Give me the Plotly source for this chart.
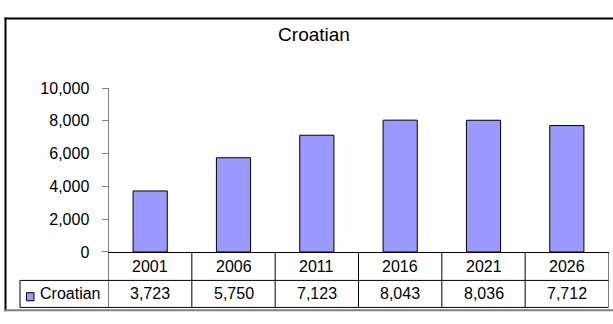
import plotly.graph_objects as go

# Series data
categories = ["2001", "2006", "2011", "2016", "2021", "2026"]
values = [3723, 5750, 7123, 8043, 8036, 7712]
series_name = "Croatian"
chart_title = "Croatian"
y_tick_values = [0, 2000, 4000, 6000, 8000, 10000]

W, H = 613, 324
FONT = "Liberation Sans, Arial, sans-serif"
TXT = 16


def px_x(x):
    return x / W


def px_y(y):
    return 1 - y / H


# Layout geometry (pixels)
plot_left, plot_right = 108.5, 608.5
plot_top, plot_bottom = 84.5, 257.5
row1_bottom, row2_bottom = 287.5, 316
legend_left = 20

fig = go.Figure()
fig.add_trace(go.Bar(
    x=list(range(len(categories))),
    y=values,
    name=series_name,
    marker=dict(color="#9999FF", line=dict(color="#000000", width=1)),
    showlegend=False,
    hoverinfo="skip",
))

shapes = []
annotations = []

# Outer chart frame (open to the right edge)
shapes.append(dict(type="line", xref="paper", yref="paper",
                   x0=px_x(4.5), x1=1.0, y0=px_y(11), y1=px_y(11),
                   line=dict(color="#000000", width=2)))
shapes.append(dict(type="line", xref="paper", yref="paper",
                   x0=px_x(5.5), x1=px_x(5.5), y0=px_y(10), y1=px_y(320),
                   line=dict(color="#000000", width=2)))
shapes.append(dict(type="line", xref="paper", yref="paper",
                   x0=px_x(4.5), x1=1.0, y0=px_y(319), y1=px_y(319),
                   line=dict(color="#7F7F7F", width=2)))

# Data table: horizontal rules
for yy in (row1_bottom, row2_bottom):
    shapes.append(dict(type="line", xref="paper", yref="paper",
                       x0=px_x(legend_left), x1=px_x(plot_right), y0=px_y(yy), y1=px_y(yy),
                       line=dict(color="#000000", width=1)))
# Data table: vertical rules at category boundaries
for i in range(len(categories) + 1):
    shapes.append(dict(type="line", xref="x", yref="paper",
                       x0=i - 0.5, x1=i - 0.5, y0=px_y(plot_bottom), y1=px_y(row2_bottom),
                       line=dict(color="#000000", width=1)))
# Legend cell left edge
shapes.append(dict(type="line", xref="paper", yref="paper",
                   x0=px_x(legend_left), x1=px_x(legend_left),
                   y0=px_y(row1_bottom), y1=px_y(row2_bottom),
                   line=dict(color="#000000", width=1)))
# Legend key swatch
shapes.append(dict(type="rect", xref="paper", yref="paper",
                   x0=px_x(26.5), x1=px_x(34), y0=px_y(309), y1=px_y(300.5),
                   fillcolor="#9999FF", line=dict(color="#000000", width=1)))

row1_c = (plot_bottom + row1_bottom) / 2
row2_c = (row1_bottom + row2_bottom) / 2
for i, (cat, v) in enumerate(zip(categories, values)):
    annotations.append(dict(x=i, y=px_y(row1_c), xref="x", yref="paper",
                            text=cat, showarrow=False, xanchor="center", yanchor="middle",
                            font=dict(family=FONT, size=TXT, color="#000000")))
    annotations.append(dict(x=i, y=px_y(row2_c), xref="x", yref="paper",
                            text=f"{v:,}", showarrow=False, xanchor="center", yanchor="middle",
                            font=dict(family=FONT, size=TXT, color="#000000")))
annotations.append(dict(x=px_x(38), y=px_y(row2_c), xref="paper", yref="paper",
                        text=series_name, showarrow=False, xanchor="left", yanchor="middle",
                        font=dict(family=FONT, size=TXT, color="#000000")))

fig.update_layout(
    width=W, height=H,
    margin=dict(l=0, r=0, t=0, b=0),
    paper_bgcolor="#FFFFFF", plot_bgcolor="#FFFFFF",
    title=dict(text=chart_title, x=px_x(314), xanchor="center",
               y=px_y(34), yanchor="middle",
               font=dict(family=FONT, size=19, color="#000000")),
    bargap=0.59,
    showlegend=False,
    shapes=shapes,
    annotations=annotations,
    xaxis=dict(domain=[px_x(plot_left), px_x(plot_right)], range=[-0.5, len(categories) - 0.5],
               showticklabels=False, ticks="", showgrid=False, zeroline=False,
               showline=True, linecolor="#000000", linewidth=1, fixedrange=True),
    yaxis=dict(domain=[px_y(plot_bottom), px_y(plot_top)], range=[0, 10000],
               tickvals=y_tick_values, tickformat=",", ticks="outside", ticklen=6,
               tickcolor="#808080", ticklabelstandoff=9,
               showgrid=False, zeroline=False, showline=True, linecolor="#808080",
               linewidth=1, tickfont=dict(family=FONT, size=TXT, color="#000000"),
               fixedrange=True),
)

fig.write_html("out.html")
